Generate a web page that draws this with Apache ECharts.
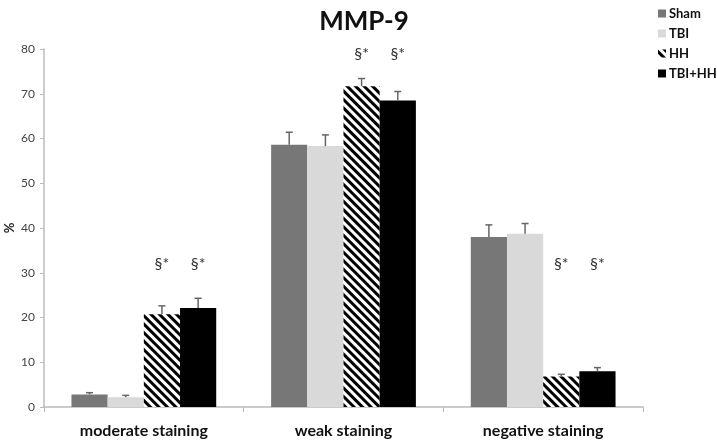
<!DOCTYPE html>
<html><head><meta charset="utf-8">
<script src="https://cdn.jsdelivr.net/npm/echarts@6/dist/echarts.min.js"></script>
<style>html,body{margin:0;padding:0;background:#fff}#c{width:717px;height:443px}</style>
</head><body><div id="c"></div>
<script>
const categories = ['moderate staining', 'weak staining', 'negative staining'];
const seriesNames = ['Sham', 'TBI', 'HH', 'TBI+HH'];
const sham = [2.8, 58.6, 38.0];
const tbi = [2.2, 58.3, 38.7];
const hh = [20.7, 71.7, 6.8];
const tbiHH = [22.1, 68.5, 8.0];
const shamErr = [0.4, 2.8, 2.7];
const tbiErr = [0.4, 2.5, 2.3];
const hhErr = [1.9, 1.7, 0.5];
const tbiHHErr = [2.2, 2.0, 0.8];
const sigLabel = '§*';
const sigLevel = [32, 79, 32];
const yTicks = [0, 10, 20, 30, 40, 50, 60, 70, 80];

const values = [sham, tbi, hh, tbiHH];
const errs = [shamErr, tbiErr, hhErr, tbiHHErr];
const colors = ['#777777', '#d9d9d9', '#ffffff', '#000000'];
const font = 'Lato, "Open Sans", sans-serif';
const gapPct = 0.275;

const chart = echarts.init(document.getElementById('c'));
const series = [];
values.forEach((v, i) => {
  const s = {
    name: seriesNames[i], type: 'bar', data: v,
    barGap: '0%', barCategoryGap: (gapPct * 100) + '%',
    itemStyle: { color: colors[i] },
    emphasis: { disabled: true }
  };
  if (i === 2) {
    s.itemStyle.decal = {
      symbol: 'rect', color: '#000', dashArrayX: [1, 0], dashArrayY: [3, 3], rotation: Math.PI / 4
    };
  }
  series.push(s);
});
// error bars
series.push({
  type: 'custom', silent: true, z: 5,
  data: categories.map((c, k) => k),
  renderItem: function (params, api) {
    const k = api.value(0);
    const catW = api.size([1, 0])[0];
    const bw = catW * (1 - gapPct) / 4;
    const children = [];
    for (let i = 0; i < 4; i++) {
      const base = api.coord([k, values[i][k]]);
      const top = api.coord([k, values[i][k] + errs[i][k]]);
      const x = base[0] + (i - 1.5) * bw;
      children.push({ type: 'line', shape: { x1: x, y1: base[1], x2: x, y2: top[1] }, style: { stroke: '#666', lineWidth: 1.5 } });
      children.push({ type: 'line', shape: { x1: x - 3.5, y1: top[1], x2: x + 3.5, y2: top[1] }, style: { stroke: '#666', lineWidth: 1.5 } });
    }
    return { type: 'group', children: children };
  }
});
// significance marks
series.push({
  type: 'custom', silent: true, z: 6,
  data: categories.map((c, k) => k),
  renderItem: function (params, api) {
    const k = api.value(0);
    const catW = api.size([1, 0])[0];
    const bw = catW * (1 - gapPct) / 4;
    const p = api.coord([k, sigLevel[k]]);
    const children = [];
    [2, 3].forEach(i => {
      children.push({ type: 'text', style: { text: sigLabel, x: p[0] + (i - 1.5) * bw, y: p[1], align: 'center', verticalAlign: 'middle', font: '16px ' + font, fill: '#333' } });
    });
    return { type: 'group', children: children };
  }
});

chart.setOption({
  animation: false,
  title: { text: 'MMP-9', left: 359, top: 4, textAlign: 'center', textStyle: { fontFamily: font, fontWeight: 'bold', fontSize: 26, color: '#111' } },
  legend: {
    data: seriesNames, orient: 'vertical', left: 653, top: 2, itemWidth: 8, itemHeight: 8, itemGap: 7,
    textStyle: { fontFamily: font, fontWeight: 'bold', fontSize: 13, color: '#111', padding: [0, 0, 0, -2] },
    icon: 'rect'
  },
  grid: { left: 44, right: 74, top: 49, bottom: 36, outerBoundsMode: 'none', containLabel: false },
  xAxis: {
    type: 'category', data: categories,
    axisLine: { lineStyle: { color: '#bbb', width: 1.5 } },
    axisTick: { show: true, length: 5, lineStyle: { color: '#bbb' } },
    axisLabel: { fontFamily: font, fontWeight: 'bold', fontSize: 16, color: '#111', margin: 16 }
  },
  yAxis: {
    type: 'value', min: yTicks[0], max: yTicks[yTicks.length - 1], interval: 10,
    name: '%', nameLocation: 'middle', nameRotate: 90, nameGap: 28, nameMoveOverlap: false,
    nameTextStyle: { fontFamily: font, fontWeight: 'bold', fontSize: 13, color: '#222' },
    axisLine: { show: true, lineStyle: { color: '#bbb', width: 1.5 } },
    axisTick: { show: true, length: 4, lineStyle: { color: '#bbb' } },
    splitLine: { show: false },
    axisLabel: { fontFamily: font, fontSize: 12, color: '#444', margin: 9 }
  },
  series: series
});
</script></body></html>
